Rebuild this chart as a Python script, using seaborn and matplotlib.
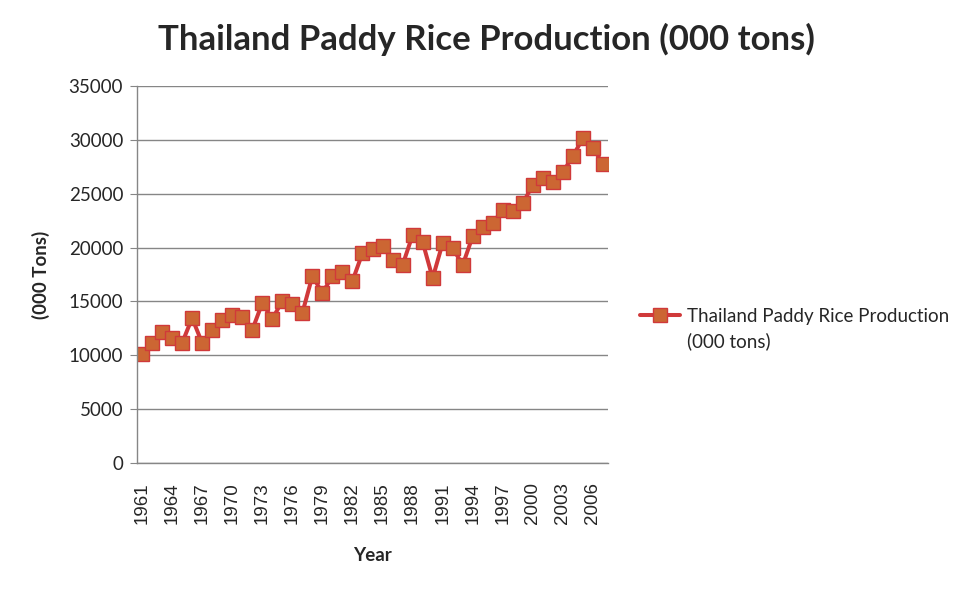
import numpy as np
import pandas as pd
import seaborn as sns
import matplotlib.pyplot as plt

# values (000 tons)
years = list(range(1961, 2008))
production = [10150, 11140, 12160, 11600, 11140, 13460, 11140, 12350, 13280, 13740,
              13550, 12350, 14850, 13370, 15040, 14760, 13930, 17360, 15780, 17360,
              17730, 16900, 19500, 19870, 20150, 18850, 18380, 21170, 20520, 17170,
              20420, 19960, 18380, 21070, 21910, 22280, 23490, 23400, 24140, 25810,
              26460, 26090, 27020, 28500, 30170, 29240, 27760]
series_name = ['Thailand Paddy Rice Production', '(000 tons)']

df = pd.DataFrame({'idx': np.arange(len(years)), 'year': years, 'value': production})

sns.set_style('white')
plt.rcParams['font.family'] = ['Lato', 'DejaVu Sans']

fig = plt.figure(figsize=(9.73, 5.92), dpi=100)
ax = fig.add_axes([0.1408, 0.2179, 0.4841, 0.6368])

sns.lineplot(data=df, x='idx', y='value', ax=ax, color='#d0393a', linewidth=2.9,
             marker='s', markersize=10.5, markerfacecolor='#cc6633',
             markeredgecolor='#d0393a', markeredgewidth=1.0, legend=False)

ax.set_xlim(-0.5, len(years) - 0.5)
ax.set_ylim(0, 35000)
ax.set_yticks(range(0, 35001, 5000))
ax.set_yticklabels([str(v) for v in range(0, 35001, 5000)], fontsize=13.5)
ax.set_xticks(df['idx'][::3])
ax.set_xticklabels([str(y) for y in years[::3]], rotation=90, fontsize=13.5,
                   family=['Liberation Sans', 'DejaVu Sans'])

ax.grid(axis='y', color='#868686', linewidth=1.0)
ax.set_axisbelow(True)
for s in ['top', 'right']:
    ax.spines[s].set_visible(False)
for s in ['left', 'bottom']:
    ax.spines[s].set_color('#868686')
    ax.spines[s].set_linewidth(1.0)
ax.tick_params(axis='y', length=5, color='#868686', pad=5, left=True)
ax.tick_params(axis='x', length=0, pad=14)

ax.set_xlabel('Year', fontsize=13.5, fontweight='bold', labelpad=16)
ax.set_ylabel('(000 Tons)', fontsize=13.5, fontweight='bold', labelpad=13)
fig.suptitle('Thailand Paddy Rice Production (000 tons)', x=0.5, y=0.962,
             fontsize=25, fontweight='bold')

# legend: handle sits next to the first line of the label, like Excel does
line = ax.get_lines()[0]
blank = plt.Line2D([], [], linestyle='none')
ax.legend([line, blank], series_name, loc='upper left',
          bbox_to_anchor=(1.068, 0.411), frameon=False, borderpad=0,
          borderaxespad=0, fontsize=13.5, handlelength=2.13,
          handletextpad=0.37, labelspacing=0.38)

fig.savefig('out.png', dpi=100)
